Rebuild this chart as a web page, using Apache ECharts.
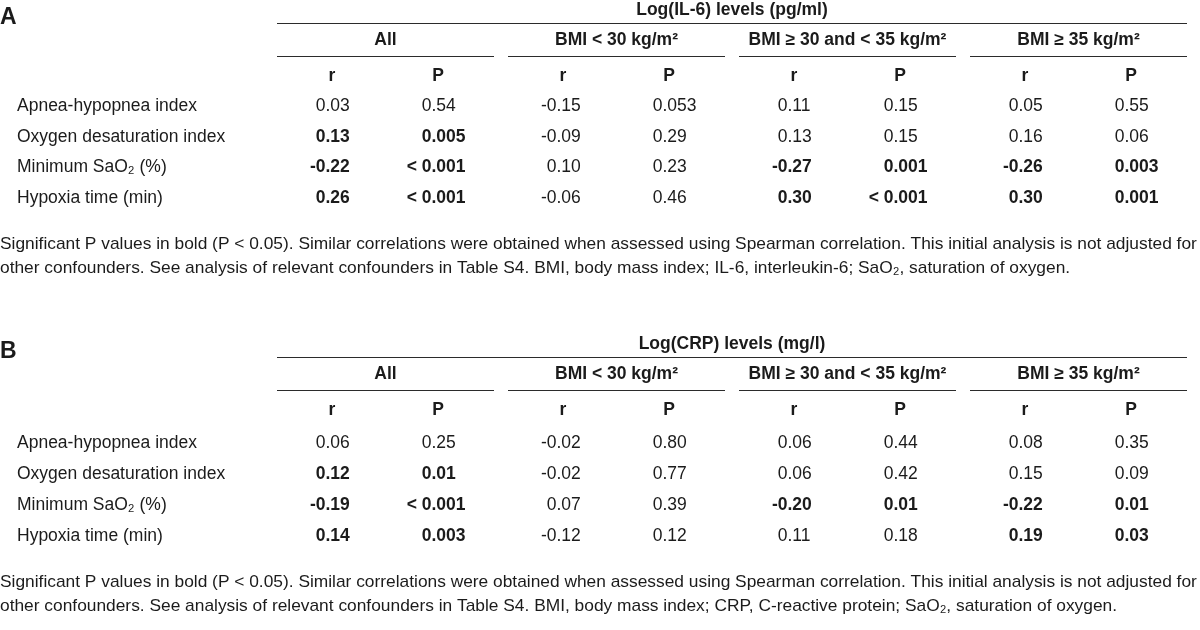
<!DOCTYPE html>
<html><head><meta charset="utf-8">
<script src="https://cdn.jsdelivr.net/npm/echarts@6/dist/echarts.min.js"></script>
<style>html,body{margin:0;padding:0;background:#fff}#c{width:1200px;height:630px}</style>
</head><body><div id="c"></div>
<script>
// ---------------- data ----------------
const rowLabels = ['Apnea-hypopnea index', 'Oxygen desaturation index', 'Minimum SaO\u2082 (%)', 'Hypoxia time (min)'];
const groupLabels = ['All', 'BMI < 30 kg/m\u00b2', 'BMI \u2265 30 and < 35 kg/m\u00b2', 'BMI \u2265 35 kg/m\u00b2'];
const statLabels = ['r', 'P'];
const panelLetters = ['A', 'B'];
const panelTitles = ['Log(IL-6) levels (pg/ml)', 'Log(CRP) levels (mg/l)'];

const il6R = [['0.03', '-0.15', '0.11', '0.05'],
              ['0.13', '-0.09', '0.13', '0.16'],
              ['-0.22', '0.10', '-0.27', '-0.26'],
              ['0.26', '-0.06', '0.30', '0.30']];
const il6P = [['0.54', '0.053', '0.15', '0.55'],
              ['0.005', '0.29', '0.15', '0.06'],
              ['< 0.001', '0.23', '0.001', '0.003'],
              ['< 0.001', '0.46', '< 0.001', '0.001']];
const crpR = [['0.06', '-0.02', '0.06', '0.08'],
              ['0.12', '-0.02', '0.06', '0.15'],
              ['-0.19', '0.07', '-0.20', '-0.22'],
              ['0.14', '-0.12', '0.11', '0.19']];
const crpP = [['0.25', '0.80', '0.44', '0.35'],
              ['0.01', '0.77', '0.42', '0.09'],
              ['< 0.001', '0.39', '0.01', '0.01'],
              ['0.003', '0.12', '0.18', '0.03']];

const il6Notes = ['Significant P values in bold (P < 0.05). Similar correlations were obtained when assessed using Spearman correlation. This initial analysis is not adjusted for',
                  'other confounders. See analysis of relevant confounders in Table S4. BMI, body mass index; IL-6, interleukin-6; SaO\u2082, saturation of oxygen.'];
const crpNotes = ['Significant P values in bold (P < 0.05). Similar correlations were obtained when assessed using Spearman correlation. This initial analysis is not adjusted for',
                  'other confounders. See analysis of relevant confounders in Table S4. BMI, body mass index; CRP, C-reactive protein; SaO\u2082, saturation of oxygen.'];

// ---------------- layout ----------------
const FONT = '"Liberation Sans", Arial, Helvetica, sans-serif';
const FS = 17.5;
const NOTE_FS = 17.35;
const INK = '#1b1b1b';
const LINE = '#2b2b2b';
const tableLeft = 277, groupW = 217, groupGap = 14;
const tableRight = tableLeft + 4 * groupW + 3 * groupGap;
const colOff = [55, 161];
const dotShift = -6.5;
const labelX = 17;
const panelY = [
  {letter: 18, title: 10, line1: 23, group: 40, line2: 56, stat: 76, rows: [106, 137, 167, 198], notes: [244, 268]},
  {letter: 352, title: 344, line1: 357, group: 374, line2: 390, stat: 410, rows: [443, 474, 505, 536], notes: [582, 606]}
];
const panelData = [[il6R, il6P, il6Notes], [crpR, crpP, crpNotes]];

function pVal(s) { return parseFloat(s.replace('<', '').trim()); }

const texts = [];   // {x, y, text, bold, size, align}
const rules = [];   // {x1, x2, y}

function addText(x, y, text, bold, align, size) {
  texts.push({x, y, text, bold: !!bold, align: align || 'center', size: size || FS});
}

panelLetters.forEach((letter, pi) => {
  const L = panelY[pi];
  const [R, P, notes] = panelData[pi];
  addText(0, L.letter, letter, true, 'left', 23);
  addText((tableLeft + tableRight) / 2, L.title, panelTitles[pi], true, 'center');
  rules.push({x1: tableLeft, x2: tableRight, y: L.line1});
  groupLabels.forEach((g, gi) => {
    const gx = tableLeft + gi * (groupW + groupGap);
    addText(gx + groupW / 2, L.group, g, true, 'center');
    rules.push({x1: gx, x2: gx + groupW, y: L.line2});
    statLabels.forEach((s, si) => addText(gx + colOff[si], L.stat, s, true, 'center'));
  });
  rowLabels.forEach((lab, ri) => {
    const y = L.rows[ri];
    addText(labelX, y, lab, false, 'left');
    groupLabels.forEach((g, gi) => {
      const gx = tableLeft + gi * (groupW + groupGap);
      const sig = pVal(P[ri][gi]) < 0.05;
      [R[ri][gi], P[ri][gi]].forEach((v, si) => {
        const dx = gx + colOff[si] + dotShift;
        const k = v.indexOf('.');
        addText(dx, y, v.slice(0, k), sig, 'right');
        addText(dx, y, v.slice(k), sig, 'left');
      });
    });
  });
  notes.forEach((n, ni) => addText(0, L.notes[ni], n, false, 'left', NOTE_FS));
});

// ---------------- chart ----------------
const chart = echarts.init(document.getElementById('c'), null, {renderer: 'canvas'});
chart.setOption({
  animation: false,
  backgroundColor: '#ffffff',
  grid: {left: 0, right: 0, top: 0, bottom: 0},
  xAxis: {type: 'value', min: 0, max: 1200, show: false},
  yAxis: {type: 'value', min: 0, max: 630, inverse: true, show: false},
  series: [
    {
      type: 'custom',
      coordinateSystem: 'cartesian2d',
      clip: false,
      data: rules.map(r => [r.x1, r.y, r.x2]),
      renderItem: (params, api) => {
        const a = api.coord([api.value(0), api.value(1)]);
        const b = api.coord([api.value(2), api.value(1)]);
        return {type: 'line', shape: {x1: a[0], y1: Math.round(a[1]) + 0.5, x2: b[0], y2: Math.round(b[1]) + 0.5},
                style: {stroke: LINE, lineWidth: 1}};
      }
    },
    {
      type: 'custom',
      coordinateSystem: 'cartesian2d',
      clip: false,
      data: texts.map(t => [t.x, t.y]),
      renderItem: (params, api) => {
        const t = texts[params.dataIndex];
        const p = api.coord([api.value(0), api.value(1)]);
        return {type: 'text', x: p[0], y: p[1],
                style: {text: t.text, fill: INK, fontFamily: FONT, fontSize: t.size,
                        fontWeight: t.bold ? 'bold' : 'normal', align: t.align, verticalAlign: 'middle'}};
      }
    }
  ]
});
</script></body></html>
